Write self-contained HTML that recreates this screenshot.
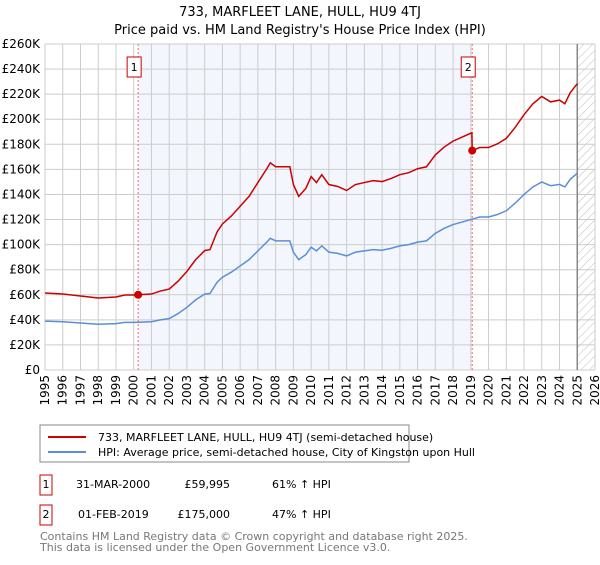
<!DOCTYPE html>
<html><head><meta charset="utf-8"><style>
body{margin:0;background:#fff;font-family:"Liberation Sans","DejaVu Sans",sans-serif}
</style></head><body>
<svg width="600" height="560" font-family="DejaVu Sans, Liberation Sans, sans-serif">
<defs><pattern id="hatch" width="6" height="6" patternUnits="userSpaceOnUse" patternTransform="rotate(45)"><line x1="0" y1="0" x2="0" y2="6" stroke="#bbb" stroke-width="1"/></pattern></defs>
<text x="300" y="16" text-anchor="middle" font-size="13">733, MARFLEET LANE, HULL, HU9 4TJ</text>
<text x="300" y="34" text-anchor="middle" font-size="13">Price paid vs. HM Land Registry's House Price Index (HPI)</text>
<g id="plot"></g>
<rect x="40" y="425" width="369" height="37" fill="#fff" stroke="#888"/>
<line x1="48" y1="437" x2="86" y2="437" stroke="#cc0000" stroke-width="2"/>
<text x="98" y="441" font-size="11">733, MARFLEET LANE, HULL, HU9 4TJ (semi-detached house)</text>
<line x1="48" y1="452" x2="86" y2="452" stroke="#5b8ed6" stroke-width="2"/>
<text x="98" y="456" font-size="11">HPI: Average price, semi-detached house, City of Kingston upon Hull</text>
<g font-size="11">
<rect x="40" y="475" width="12" height="20" fill="#fff" stroke="#cc0000"/>
<text x="46" y="488" text-anchor="middle">1</text>
<text x="76" y="488">31-MAR-2000</text><text x="230" y="488" text-anchor="end">£59,995</text><text x="272" y="488">61% ↑ HPI</text>
<rect x="40" y="505" width="12" height="20" fill="#fff" stroke="#cc0000"/>
<text x="46" y="518" text-anchor="middle">2</text>
<text x="78" y="518">01-FEB-2019</text><text x="230" y="518" text-anchor="end">£175,000</text><text x="272" y="518">47% ↑ HPI</text>
</g>
<text x="40" y="540" font-size="11" fill="#777">Contains HM Land Registry data © Crown copyright and database right 2025.</text>
<text x="40" y="551" font-size="11" fill="#777">This data is licensed under the Open Government Licence v3.0.</text>
</svg>
<script>
const hpiYears=[1995,1996,1997,1998,1999,1999.5,2000,2001,2001.5,2002,2002.5,2003,2003.5,2004,2004.3,2004.7,2005,2005.5,2006,2006.5,2007,2007.5,2007.7,2008,2008.5,2008.8,2009,2009.3,2009.7,2010,2010.3,2010.6,2011,2011.5,2012,2012.5,2013,2013.5,2014,2014.5,2015,2015.5,2016,2016.5,2017,2017.5,2018,2018.5,2019,2019.5,2020,2020.5,2021,2021.5,2022,2022.5,2023,2023.5,2024,2024.3,2024.6,2025];
const hpiValues=[39,38.5,37.5,36.5,37,38,38,38.5,40,41,45,50,56,60.5,61,70,74,78,83,88,95,102,105,103,103,103,94,88,92,98,95,99,94,93,91,94,95,96,95.5,97,99,100,102,103,109,113,116,118,120,122,122,124,127,133,140,146,150,147,148,146,152,157];
const saleYears=[2000.25,2019.08];
const salePrices=[59.995,175];
const saleLabels=["1","2"];
const yTicks=[0,20,40,60,80,100,120,140,160,180,200,220,240,260];
const xTicks=[1995,1996,1997,1998,1999,2000,2001,2002,2003,2004,2005,2006,2007,2008,2009,2010,2011,2012,2013,2014,2015,2016,2017,2018,2019,2020,2021,2022,2023,2024,2025,2026];
const L=45,R=595,T=44,B=370,x0=1995,x1=2026,yMax=260,dataEnd=2025;
const X=v=>L+(v-x0)/(x1-x0)*(R-L);
const Y=v=>B-v/yMax*(B-T);
const NS="http://www.w3.org/2000/svg";
const g=document.getElementById('plot');
function mk(t,a){const e=document.createElementNS(NS,t);for(const k in a)e.setAttribute(k,a[k]);g.appendChild(e);return e;}
function hpiAt(y){for(let i=0;i<hpiYears.length-1;i++){if(y<=hpiYears[i+1]){const f=(y-hpiYears[i])/(hpiYears[i+1]-hpiYears[i]);return hpiValues[i]+f*(hpiValues[i+1]-hpiValues[i]);}}return hpiValues[hpiValues.length-1];}
let e;
e=mk('rect',{x:X(saleYears[0]),y:T,width:X(saleYears[1])-X(saleYears[0]),height:B-T,fill:'#f3f6fd'});


e=mk('rect',{x:X(dataEnd),y:T,width:R-X(dataEnd),height:B-T,fill:'url(#hatch)'});


yTicks.forEach(v=>{
 e=mk('line',{x1:L,x2:R,y1:Y(v),y2:Y(v),stroke:'#cccccc'});
 
 
 e=mk('text',{x:L-5,y:Y(v)+4,'text-anchor':'end','font-size':12});
 e.textContent=v===0?'£0':'£'+v+'K';
 
 
});
xTicks.forEach(v=>{
 e=mk('line',{x1:X(v),x2:X(v),y1:T,y2:B,stroke:'#cccccc'});
 
 
 e=mk('text',{x:0,y:0,'text-anchor':'end','font-size':12,transform:`translate(${X(v)+4},${B+5}) rotate(-90)`});
 e.textContent=v;
 
 
});
e=mk('line',{x1:X(dataEnd),x2:X(dataEnd),y1:T,y2:B,stroke:'#888','stroke-width':1.5});


saleYears.forEach((s,i)=>{
 e=mk('line',{x1:X(s),x2:X(s),y1:T,y2:B,stroke:'#ff6666','stroke-dasharray':'2,2'});
 
 
 e=mk('rect',{x:X(s)-11,y:57,width:14,height:20,fill:'#fff',stroke:'#cc0000'});
 
 
 e=mk('text',{x:X(s)-4,y:71,'text-anchor':'middle','font-size':11});
 e.textContent=saleLabels[i];
 
 
});
e=mk('polyline',{points:hpiYears.map((y,i)=>X(y)+','+Y(hpiValues[i])).join(' '),fill:'none',stroke:'#5b8ed6','stroke-width':1.5});


const r1=salePrices[0]/hpiAt(saleYears[0]),r2=salePrices[1]/hpiAt(saleYears[1]);
const pts=[];
hpiYears.forEach((y,i)=>{ if(y<saleYears[1]) pts.push([y,hpiValues[i]*r1]); });
pts.push([saleYears[1]-0.02,hpiAt(saleYears[1]-0.02)*r1]);
pts.push([saleYears[1],salePrices[1]]);
hpiYears.forEach((y,i)=>{ if(y>saleYears[1]) pts.push([y,hpiValues[i]*r2]); });
e=mk('polyline',{points:pts.map(p=>X(p[0])+','+Y(p[1])).join(' '),fill:'none',stroke:'#cc0000','stroke-width':1.5});


saleYears.forEach((s,i)=>{
 e=mk('circle',{cx:X(s),cy:Y(salePrices[i]),r:4,fill:'#cc0000'});
 
 
});
</script>
</body></html>
